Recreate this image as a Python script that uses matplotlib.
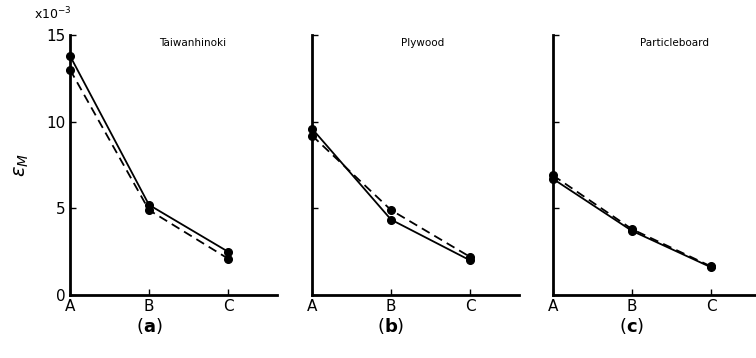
import matplotlib
matplotlib.use("Agg")
import matplotlib.pyplot as plt

# strain values (x10^-3) at positions A, B, C
positions = ["A", "B", "C"]
materials = ["Taiwanhinoki", "Plywood", "Particleboard"]
panel_tags = ["a", "b", "c"]
solid_vals = [
    [13.8, 5.2, 2.5],
    [9.6, 4.35, 2.0],
    [6.7, 3.7, 1.6],
]
dashed_vals = [
    [13.0, 4.9, 2.1],
    [9.2, 4.9, 2.2],
    [6.9, 3.8, 1.65],
]

plt.rcParams["font.family"] = "DejaVu Sans"
fig = plt.figure(figsize=(7.56, 3.58), dpi=100)

lefts = [70 / 756, 312 / 756, 553 / 756]
widths = [207 / 756, 207 / 756, 203 / 756]
bottom = 1 - 295 / 358
height = 260 / 358
xmax = [2.62, 2.62, 2.57]

for i in range(3):
    ax = fig.add_axes([lefts[i], bottom, widths[i], height])
    x = range(len(positions))
    ax.plot(x, solid_vals[i], "-", color="black", lw=1.3,
            marker="o", ms=5.5, clip_on=False, zorder=3)
    ax.plot(x, dashed_vals[i], "--", color="black", lw=1.3,
            marker="o", ms=5.5, dashes=(5, 3), clip_on=False, zorder=3)
    ax.set_xlim(0, xmax[i])
    ax.set_ylim(0, 15)
    ax.spines["top"].set_visible(False)
    ax.spines["right"].set_visible(False)
    ax.spines["left"].set_linewidth(2)
    ax.spines["bottom"].set_linewidth(2)
    ax.set_xticks(list(x))
    ax.set_xticklabels(positions, fontsize=11)
    ax.set_yticks([0, 5, 10, 15])
    ax.tick_params(direction="in", length=4, width=1, pad=3)
    if i == 0:
        ax.set_yticklabels(["0", "5", "10", "15"], fontsize=11)
    else:
        ax.set_yticklabels([])
    ax.text(0.43, 0.97, materials[i], transform=ax.transAxes,
            fontsize=7.5, ha="left", va="center")
    cx = lefts[i] + (1.0 / xmax[i]) * widths[i]
    fig.text(cx, 0.09, "(" + r"$\mathbf{" + panel_tags[i] + "}$" + ")",
             fontsize=13, ha="center", va="center")

fig.text(0.028, 0.54, r"$\varepsilon_M$", rotation=90, fontsize=14,
         ha="center", va="center")
fig.text(0.045, 0.962, r"x10$^{-3}$", fontsize=9, ha="left", va="center")

fig.savefig("out.png", dpi=100)
